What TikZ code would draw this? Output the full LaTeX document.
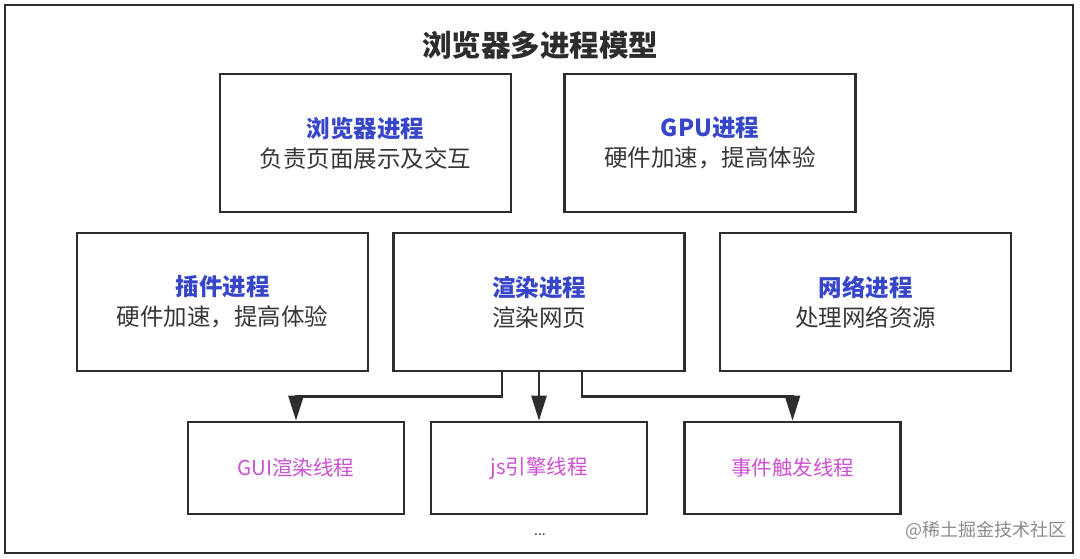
\documentclass[tikz,border=0pt]{standalone}
\usepackage{fontspec}
\setmainfont{Noto Sans CJK SC}
\usetikzlibrary{arrows.meta}
\definecolor{ttl}{RGB}{55,70,200}
\definecolor{sub}{RGB}{55,55,55}
\definecolor{thr}{RGB}{205,80,210}
\definecolor{frm}{RGB}{45,45,45}
\tikzset{
  procbox/.style={draw=frm, line width=2.6pt, minimum width=291pt, minimum height=138pt, align=center, inner sep=0pt, font=\fontsize{23.5}{30}\selectfont},
  thrbox/.style={draw=frm, line width=2.6pt, minimum width=216pt, minimum height=92pt, inner sep=0pt, text=thr, font=\fontsize{20.5}{24}\selectfont},
  arr/.style={draw=frm, line width=2.6pt, -{Triangle[width=15pt,length=25pt]}},
}
\newcommand{\ptitle}[1]{{\color{ttl}\bfseries #1}}
\newcommand{\psub}[1]{{\color{sub}#1}}
\begin{document}
\begin{tikzpicture}[x=1pt,y=-1pt]
\useasboundingbox (0,0) rectangle (1080,558);
\draw[frm, line width=2pt] (5,5) rectangle (1073,553);
\node[font=\bfseries\fontsize{29.5}{32}\selectfont, text=frm] (title) at (540,45) {浏览器多进程模型};
\node[procbox] (browser) at (365.5,143) {\ptitle{浏览器进程}\\\psub{负责页面展示及交互}};
\node[procbox] (gpu) at (710,143) {\ptitle{GPU进程}\\\psub{硬件加速，提高体验}};
\node[procbox] (plugin) at (222.5,302) {\ptitle{插件进程}\\\psub{硬件加速，提高体验}};
\node[procbox] (render) at (539,302) {\ptitle{渲染进程}\\\psub{渲染网页}};
\node[procbox] (network) at (865.5,302) {\ptitle{网络进程}\\\psub{处理网络资源}};
\node[thrbox] (gui) at (296,468) {GUI渲染线程};
\node[thrbox] (js) at (539,468) {js引擎线程};
\node[thrbox] (event) at (792.5,468) {事件触发线程};
\draw[arr] ([xshift=-37pt]render.south) -- ++(0,24) -| (gui.north);
\draw[arr] (render.south) -- (js.north);
\draw[arr] ([xshift=43pt]render.south) -- ++(0,24) -| (event.north);
\node[text=sub, font=\fontsize{14}{16}\selectfont] (dots) at (540,535) {...};
\node[text=black!45, font=\fontsize{18}{20}\selectfont] (wm) at (986,530) {@稀土掘金技术社区};
\end{tikzpicture}
\end{document}
